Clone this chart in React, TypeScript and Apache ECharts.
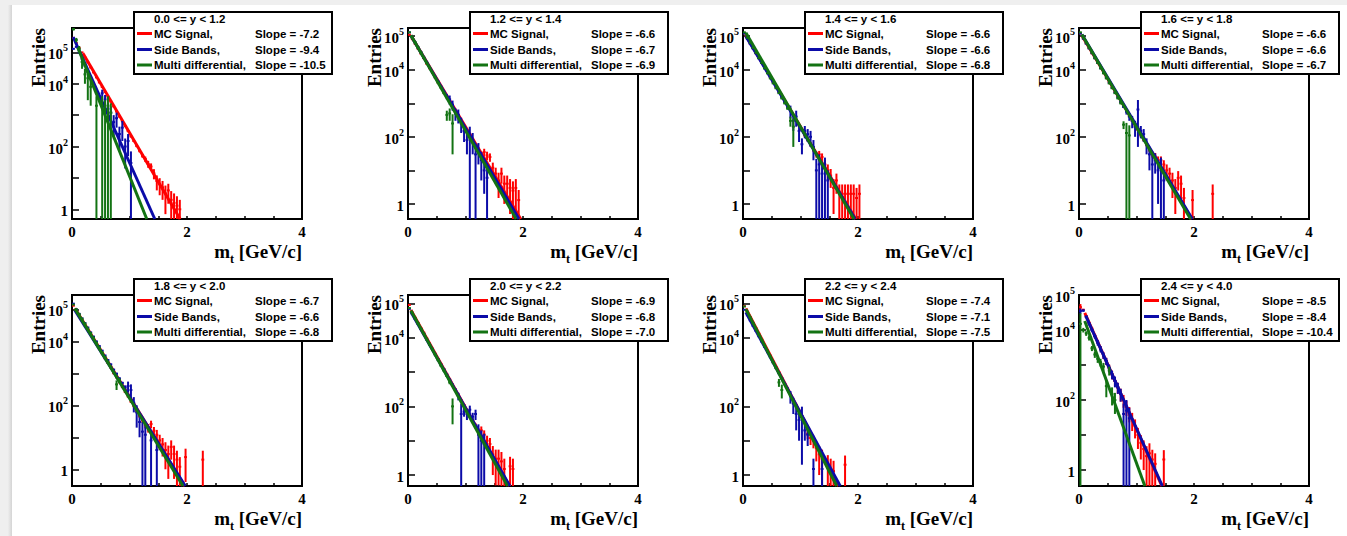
import React, { useEffect, useRef } from "react";
import * as echarts from "echarts";

// ---------------- data ----------------
const BIN_WIDTH = 0.05;
const TITLES = [
  "0.0 <= y < 1.2", "1.2 <= y < 1.4", "1.4 <= y < 1.6", "1.6 <= y < 1.8",
  "1.8 <= y < 2.0", "2.0 <= y < 2.2", "2.2 <= y < 2.4", "2.4 <= y < 4.0",
];
const SERIES_NAMES = ["MC Signal,", "Side Bands,", "Multi differential,"];
const SLOPES_MC = [-7.2, -6.6, -6.6, -6.6, -6.7, -6.9, -7.4, -8.5];
const SLOPES_SB = [-9.4, -6.7, -6.6, -6.6, -6.6, -6.8, -7.1, -8.4];
const SLOPES_MD = [-10.5, -6.9, -6.8, -6.7, -6.8, -7.0, -7.5, -10.4];
const Y_MIN = [0.49, 0.355, 0.355, 0.355, 0.3, 0.48, 0.48, 0.35];
const Y_MAX = [6.0e5, 1.75e5, 1.75e5, 1.75e5, 2.8e5, 1.75e5, 1.75e5, 1.0e5];
const X_LABELS = [0, 2, 4];
const Y_LABEL_EXPONENTS = [0, 2, 4, 5];

// fit lines: [x start, y start, x end, y end]
const FIT_MC = [
  [0.19, 9.4e4, 1.88, 0.49], [0.05, 1.05e5, 1.96, 0.355], [0.05, 1.05e5, 1.96, 0.355], [0.05, 1.05e5, 1.96, 0.355],
  [0.05, 1.07e5, 1.96, 0.3], [0.05, 6.4e4, 1.76, 0.48], [0.05, 7.1e4, 1.66, 0.48], [0.1, 3.1e4, 1.44, 0.35],
];
const FIT_SB = [
  [0.02, 3.1e5, 1.44, 0.49], [0.05, 1.05e5, 1.93, 0.355], [0.05, 9.9e4, 1.95, 0.355], [0.05, 1.12e5, 1.97, 0.355],
  [0.05, 9.3e4, 1.97, 0.3], [0.05, 5.7e4, 1.77, 0.48], [0.05, 5.5e4, 1.69, 0.48], [0.12, 2.5e4, 1.45, 0.35],
];
const FIT_MD = [
  [0.1, 1.45e5, 1.3, 0.49], [0.05, 1.07e5, 1.88, 0.355], [0.05, 1.26e5, 1.93, 0.355], [0.05, 1.12e5, 1.94, 0.355],
  [0.05, 1.05e5, 1.93, 0.3], [0.05, 6.2e4, 1.73, 0.48], [0.05, 6.8e4, 1.63, 0.48], [0.1, 1.8e4, 1.145, 0.35],
];

// histograms: [content, error] per 0.05 GeV/c bin starting at 0
const P1_MC = [[2.9e5,540],[2.0e5,450],[1.4e5,370],[1.0e5,320],[6.9e4,260],[4.8e4,220],[3.3e4,180],[2.3e4,150],[1.6e4,130],[1.1e4,105],[7.9e3,89],[5.5e3,74],[3.9e3,62],[2.7e3,52],[1.9e3,44],[1.3e3,36],[900,30],[640,25],[450,21],[310,18],[210,15],[150,12],[105,10],[74,9],[51,7],[40,8],[28,7],[23,6],[14,5],[8,4],[6.3,3.5],[5,3],[3.2,2.5],[4,2.5],[2,1.8],[1.6,1.6],[1.3,1.3],[1,1]];
const P1_SB = [[1.3e5,2e3],[1.5e5,2e3],[9.8e4,1.5e3],[6.2e4,1.2e3],[3.8e4,900],[2.4e4,700],[1.5e4,550],[9.3e3,450],[5.9e3,350],[3.6e3,300],[5.0e3,1.5e3],[3.2e3,1.2e3],[1.6e3,800],[1.2e3,700],[600,400],[800,400],[250,180],[400,250],[100,80],[150,100],[30,40]];
const P1_MD = [[5.5e5,5e4],[2.5e5,4e4],[1.3e5,3e4],[5e4,2e4],[2e4,1e4],[1.5e4,1.2e4],[8e3,6e3],[0,0],[2e3,2e3],[0,0],[2e3,2e3],[1.5e3,1.5e3],[2e3,2e3],[1.2e3,1.2e3]];

const P2_MC = [[1.1e5,330],[8.1e4,280],[5.8e4,240],[4.2e4,200],[3.0e4,170],[2.2e4,150],[1.5e4,120],[1.1e4,105],[8.0e3,90],[5.8e3,76],[4.1e3,64],[3.0e3,55],[2.1e3,46],[1.5e3,39],[1.1e3,33],[790,28],[570,24],[410,20],[300,17],[210,15],[150,12],[110,10],[79,9],[56,8],[41,7],[30,6],[35,9],[28,8],[25,7],[12,5],[8,4],[5,3.5],[8,4],[4,3],[4,3],[3,2.5],[2.5,2.2],[3,2.5],[1.3,1.3]];
const P2_SB = [[1.3e5,700],[8.9e4,600],[6.4e4,500],[4.6e4,430],[3.3e4,360],[2.3e4,300],[1.7e4,260],[1.2e4,220],[8.5e3,180],[6.1e3,160],[4.4e3,130],[3.1e3,110],[2.2e3,300],[1.6e3,300],[1.3e3,400],[900,300],[500,200],[450,200],[250,120],[150,80],[80,50],[100,100],[80,50],[30,30],[40,25],[20,15],[10,8],[6,6]];
const P2_MD = [[1.3e5,700],[9.1e4,600],[6.5e4,500],[4.6e4,430],[3.3e4,360],[2.3e4,300],[1.6e4,250],[1.2e4,220],[8.2e3,180],[5.8e3,150],[4.1e3,130],[2.9e3,110],[2.0e3,90],[450,150],[500,200],[250,220]];

const P3_MC = [[1.2e5,350],[8.6e4,290],[6.1e4,250],[4.4e4,210],[3.1e4,180],[2.3e4,150],[1.6e4,130],[1.2e4,110],[8.3e3,91],[6.0e3,77],[4.3e3,66],[3.1e3,56],[2.2e3,47],[1.6e3,40],[1.1e3,33],[820,29],[590,24],[420,20],[300,17],[220,15],[160,13],[110,10],[82,9],[59,8],[42,7],[30,6],[30,8],[25,7],[15,6],[10,5],[7,4],[3,2.5],[5,3],[2,1.8],[2,1.8],[2,1.8],[2,1.8],[2,1.8],[2,1.8],[1.5,1.5],[2,1.8]];
const P3_SB = [[1.2e5,700],[8.4e4,600],[6.0e4,500],[4.3e4,420],[3.1e4,350],[2.2e4,300],[1.6e4,250],[1.1e4,210],[8.0e3,180],[5.8e3,150],[4.1e3,130],[2.9e3,110],[2.1e3,90],[1.5e3,80],[1.1e3,70],[780,60],[600,250],[300,150],[400,200],[150,80],[60,30],[150,60],[120,50],[100,50],[50,30],[10,12],[15,15],[8,8],[12,12],[5,5]];
const P3_MD = [[1.3e5,700],[9.0e4,600],[6.4e4,500],[4.5e4,420],[3.2e4,350],[2.2e4,300],[1.6e4,250],[1.1e4,210],[7.8e3,180],[5.5e3,150],[3.9e3,130],[2.8e3,110],[2.0e3,90],[1.4e3,80],[1.0e3,70],[700,60],[300,100],[200,150]];

const P4_MC = [[1.2e5,350],[8.6e4,290],[6.1e4,250],[4.4e4,210],[3.1e4,180],[2.3e4,150],[1.6e4,130],[1.2e4,110],[8.3e3,91],[6.0e3,77],[4.3e3,66],[3.1e3,56],[2.2e3,47],[1.6e3,40],[1.1e3,33],[820,29],[590,24],[420,20],[300,17],[220,15],[160,13],[110,10],[82,9],[59,8],[42,7],[30,6],[26,7],[20,6],[20,6],[15,5],[10,5],[8,4],[5,3.5],[3,2.5],[6,3.5],[4,3],[1.5,1.5],[0,0],[0,0],[1.3,1.3],[0,0],[0,0],[0,0],[0,0],[0,0],[0,0],[2,1.8]];
const P4_SB = [[1.2e5,700],[8.4e4,600],[6.0e4,500],[4.3e4,420],[3.1e4,350],[2.2e4,300],[1.6e4,250],[1.1e4,210],[8.0e3,180],[5.8e3,150],[4.1e3,130],[2.9e3,110],[2.1e3,90],[1.5e3,80],[1.1e3,70],[780,60],[560,100],[400,100],[300,120],[200,100],[650,600],[150,60],[120,50],[60,30],[30,20],[15,15],[20,12],[10,9],[12,12],[5,5]];
const P4_MD = [[1.3e5,700],[9.0e4,600],[6.4e4,500],[4.5e4,420],[3.2e4,350],[2.2e4,300],[1.6e4,250],[1.1e4,210],[7.8e3,180],[5.5e3,150],[3.9e3,130],[2.8e3,110],[2.0e3,90],[1.4e3,80],[1.0e3,70],[230,60],[130,130],[110,110]];

const P5_MC = [[1.3e5,360],[9.1e4,300],[6.5e4,250],[4.6e4,210],[3.3e4,180],[2.3e4,150],[1.6e4,130],[1.2e4,110],[8.2e3,90],[5.8e3,76],[4.1e3,64],[2.9e3,54],[2.1e3,46],[1.5e3,39],[1.0e3,32],[740,27],[520,23],[370,19],[260,16],[190,14],[130,11],[95,10],[67,8],[47,7],[34,6],[24,5],[20,6],[26,7],[16,5],[12,5],[8,4],[6,3.5],[4,3],[3,2.5],[5,3],[3,2.5],[2,1.8],[1.2,1.2],[0,0],[2.4,2],[0,0],[0,0],[0,0],[0,0],[0,0],[2,1.8]];
const P5_SB = [[1.5e5,800],[1.0e5,650],[7.2e4,550],[5.2e4,470],[3.7e4,400],[2.7e4,330],[1.9e4,280],[1.4e4,240],[9.9e3,200],[7.1e3,170],[5.1e3,140],[3.6e3,120],[2.6e3,100],[1.9e3,90],[1.3e3,75],[970,65],[690,55],[500,45],[360,60],[400,150],[300,150],[120,60],[60,40],[30,20],[15,15],[12,12],[0,0],[8,8],[0,0],[4,4]];
const P5_MD = [[1.4e5,800],[1.0e5,650],[7.1e4,550],[5.1e4,470],[3.6e4,400],[2.5e4,330],[1.8e4,280],[1.3e4,240],[9.0e3,200],[6.3e3,170],[4.5e3,140],[3.2e3,120],[2.3e3,100],[1.6e3,90],[1.1e3,75],[450,150],[600,100]];

const P6_MC = [[9.0e4,300],[5.4e4,230],[3.8e4,190],[2.7e4,160],[1.9e4,140],[1.4e4,120],[9.7e3,100],[6.8e3,82],[4.8e3,69],[3.4e3,58],[2.4e3,49],[1.7e3,41],[1.2e3,35],[860,29],[610,25],[430,21],[310,18],[220,15],[150,12],[110,10],[77,9],[54,7],[38,6],[27,5],[19,4.5],[20,6],[15,5],[10,4],[8,4],[4,3],[3,2.5],[3,2.5],[2.5,2.2],[1.5,1.5],[0,0],[1.8,1.6],[1.5,1.5]];
const P6_SB = [[6.9e4,500],[4.9e4,420],[3.5e4,350],[2.5e4,300],[1.8e4,250],[1.3e4,220],[8.9e3,180],[6.3e3,150],[4.6e3,130],[3.2e3,110],[2.3e3,95],[1.6e3,80],[1.2e3,70],[830,58],[590,50],[420,40],[300,35],[200,50],[60,60],[70,20],[60,20],[80,25],[50,15],[60,20],[15,15],[10,10],[8,8]];
const P6_MD = [[7.3e4,500],[5.1e4,420],[3.6e4,350],[2.6e4,300],[1.8e4,250],[1.3e4,220],[8.9e3,180],[6.3e3,150],[4.4e3,130],[3.1e3,110],[2.2e3,95],[1.5e3,80],[1.1e3,70],[770,58],[500,60],[100,70]];

const P7_MC = [[8.3e4,290],[5.7e4,240],[4.0e4,200],[2.7e4,160],[1.9e4,140],[1.3e4,115],[9.1e3,95],[6.2e3,79],[4.3e3,66],[3.0e3,55],[2.0e3,45],[1.4e3,37],[980,31],[670,26],[460,21],[320,18],[220,15],[150,12],[110,10],[74,9],[51,7],[35,6],[16,5],[12,4.5],[10,4],[6,3.5],[4,3],[3,2.5],[0,0],[2,1.8],[1.5,1.5],[1.3,1.3],[0,0],[0,0],[0,0],[2,1.7]];
const P7_SB = [[6.5e4,500],[4.5e4,420],[3.2e4,350],[2.2e4,300],[1.6e4,250],[1.1e4,210],[7.7e3,180],[5.4e3,150],[3.8e3,120],[2.7e3,100],[1.9e3,90],[1.3e3,75],[920,60],[650,50],[450,45],[320,40],[200,80],[120,60],[60,40],[40,30],[50,48],[20,10],[15,8],[0,0],[1.5,1.5],[0,0],[0,0],[1.5,1.5]];
const P7_MD = [[8.1e4,500],[5.6e4,420],[3.8e4,350],[2.6e4,300],[1.8e4,250],[1.2e4,210],[8.5e3,180],[5.9e3,150],[4.0e3,120],[2.8e3,100],[1.9e3,90],[1.3e3,75],[500,130],[300,130]];

const P8_MC = [[4.5e4,1.0e4],[3.8e4,2e3],[2.5e4,1.5e3],[1.6e4,1.2e3],[1.1e4,1e3],[6.9e3,800],[4.6e3,600],[3.0e3,500],[1.9e3,400],[1.3e3,300],[830,200],[540,150],[350,100],[230,80],[150,60],[100,40],[65,30],[43,20],[28,15],[18,10],[10,6],[6,4],[4,3],[2.5,2.3],[3,2.8],[2,1.8],[1.5,1.5],[0,0],[0,0],[2,1.7]];
const P8_SB = [[3.5e4,6e3],[3.6e4,3e3],[2.4e4,2e3],[1.5e4,1.5e3],[1.0e4,1.2e3],[6.7e3,1e3],[4.4e3,800],[2.9e3,600],[1.9e3,400],[1.3e3,300],[810,200],[540,150],[350,120],[230,80],[150,60],[40,40],[50,50],[30,30]];
const P8_MD = [[1.5e4,1.5e4],[1.0e4,1.5e3],[8e3,1.2e3],[6e3,1e3],[3e3,500],[2e3,400],[1.5e3,350],[1.2e3,300],[900,250],[250,130],[700,200],[150,80],[100,60]];

const HISTS_MC = [P1_MC, P2_MC, P3_MC, P4_MC, P5_MC, P6_MC, P7_MC, P8_MC];
const HISTS_SB = [P1_SB, P2_SB, P3_SB, P4_SB, P5_SB, P6_SB, P7_SB, P8_SB];
const HISTS_MD = [P1_MD, P2_MD, P3_MD, P4_MD, P5_MD, P6_MD, P7_MD, P8_MD];

// ---------------- layout / style ----------------
const W = 1347, H = 536;
const PLOT_W = 230, PLOT_H = 191;
const COL_X = [72, 408, 743, 1079];
const ROW_Y = [28, 295];
const COLORS = ["#ff0000", "#0b0ba8", "#137313"];
const SERIF = "'Liberation Serif', 'DejaVu Serif', serif";
const SANS = "'Liberation Sans', Arial, sans-serif";

function histSeries(p: number, k: number, hist: number[][], color: string) {
  const yMin = Y_MIN[p], yMax = Y_MAX[p];
  const data = hist
    .map((d, i) => [(i + 0.5) * BIN_WIDTH, d[0], d[1]])
    .filter((d) => d[1] > 0);
  return {
    type: "custom",
    xAxisIndex: p,
    yAxisIndex: p,
    silent: true,
    z: 2 + k * 2,
    data,
    encode: { x: 0, y: 1 },
    renderItem: (params: any, api: any) => {
      const x = api.value(0), v = api.value(1), e = api.value(2);
      const style = { stroke: color, lineWidth: 2 };
      const children: any[] = [];
      if (v >= yMin && v <= yMax) {
        const a = api.coord([x - BIN_WIDTH / 2, v]);
        const b = api.coord([x + BIN_WIDTH / 2, v]);
        children.push({ type: "line", shape: { x1: a[0], y1: a[1], x2: b[0], y2: b[1] }, style });
      }
      const lo = Math.max(v - e, yMin), hi = Math.min(v + e, yMax);
      if (hi > lo) {
        const c = api.coord([x, lo]);
        const d = api.coord([x, hi]);
        children.push({ type: "line", shape: { x1: c[0], y1: c[1], x2: d[0], y2: d[1] }, style });
      }
      return { type: "group", children };
    },
  };
}

function fitSeries(p: number, k: number, fit: number[], color: string) {
  return {
    type: "line",
    xAxisIndex: p,
    yAxisIndex: p,
    silent: true,
    z: 3 + k * 2,
    showSymbol: false,
    symbol: "none",
    data: [[fit[0], fit[1]], [fit[2], fit[3]]],
    lineStyle: { color, width: 3 },
  };
}

function buildOption() {
  const grid: any[] = [], xAxis: any[] = [], yAxis: any[] = [], series: any[] = [];
  const elements: any[] = [
    { type: "rect", shape: { x: 12, y: 5, width: W - 12, height: H - 5 }, style: { fill: "#ffffff" }, z: -10, silent: true },
    {
      type: "rect", shape: { x: 8, y: 5, width: 4, height: H - 5 }, z: -10, silent: true,
      style: { fill: new echarts.graphic.LinearGradient(0, 0, 1, 0, [{ offset: 0, color: "#eeeeee" }, { offset: 1, color: "#d4d4d4" }]) },
    },
  ];
  for (let p = 0; p < 8; p++) {
    const left = COL_X[p % 4];
    const top = ROW_Y[Math.floor(p / 4)];
    grid.push({ left, top, width: PLOT_W, height: PLOT_H, show: true, borderColor: "#000", borderWidth: 2, backgroundColor: "transparent" });
    xAxis.push({
      gridIndex: p, type: "value", min: 0, max: 4, interval: 0.5,
      axisLine: { show: false }, splitLine: { show: false },
      axisTick: { show: true, inside: true, length: 3, lineStyle: { color: "#000", width: 1.5 } },
      axisLabel: {
        formatter: (v: number) => (X_LABELS.indexOf(v) >= 0 ? String(v) : ""),
        fontFamily: SERIF, fontWeight: "bold", fontSize: 15, color: "#000", margin: 5,
      },
    });
    yAxis.push({
      gridIndex: p, type: "log", logBase: 10, min: Y_MIN[p], max: Y_MAX[p],
      axisLine: { show: false }, splitLine: { show: false }, minorTick: { show: false },
      axisTick: { show: true, inside: true, length: 7, lineStyle: { color: "#000", width: 1.5 } },
      axisLabel: {
        margin: 4,
        color: "#000", fontFamily: SERIF, fontWeight: "bold", fontSize: 15,
        formatter: (v: number) => {
          const e = Math.log10(v);
          const r = Math.round(e);
          if (Math.abs(e - r) > 1e-6 || Y_LABEL_EXPONENTS.indexOf(r) < 0) return "";
          if (r === 0) return "{b|1}";
          return "{b|10}{s|" + r + "}";
        },
        rich: {
          b: { fontFamily: SERIF, fontWeight: "bold", fontSize: 15, color: "#000", verticalAlign: "bottom", lineHeight: 19 },
          s: { fontFamily: SERIF, fontWeight: "bold", fontSize: 10, color: "#000", verticalAlign: "top", lineHeight: 19 },
        },
      },
    });
    const hists = [HISTS_MC[p], HISTS_SB[p], HISTS_MD[p]];
    const fits = [FIT_MC[p], FIT_SB[p], FIT_MD[p]];
    for (let k = 0; k < 3; k++) {
      series.push(histSeries(p, k, hists[k], COLORS[k]));
      series.push(fitSeries(p, k, fits[k], COLORS[k]));
    }

    // axis titles
    elements.push({
      type: "text", x: left - 34, y: top, rotation: Math.PI / 2, silent: true, z: 50,
      style: { text: "Entries", fontFamily: SERIF, fontWeight: "bold", fontSize: 19, fill: "#000", align: "right", verticalAlign: "middle" },
    });
    elements.push({
      type: "text", x: left + PLOT_W, y: top + PLOT_H + 34, silent: true, z: 50,
      style: {
        text: "{b|m}{t|t}{b| [GeV/c]}", align: "right", verticalAlign: "middle",
        rich: {
          b: { fontFamily: SERIF, fontWeight: "bold", fontSize: 19, fill: "#000", verticalAlign: "top", lineHeight: 23 },
          t: { fontFamily: SERIF, fontWeight: "bold", fontSize: 12, fill: "#000", verticalAlign: "bottom", lineHeight: 23 },
        },
      },
    });

    // legend box
    const lx = left + 62, ly = top - 16;
    const slopes = [SLOPES_MC[p], SLOPES_SB[p], SLOPES_MD[p]];
    elements.push({
      type: "rect", shape: { x: lx, y: ly, width: 198, height: 62 }, z: 100, silent: true,
      style: { fill: "#fff", stroke: "#000", lineWidth: 2 },
    });
    elements.push({
      type: "text", x: lx + 20, y: ly + 7, z: 101, silent: true,
      style: { text: TITLES[p], fontFamily: SANS, fontWeight: "bold", fontSize: 11.5, fill: "#000", align: "left", verticalAlign: "middle" },
    });
    const rowY = [ly + 21.5, ly + 37.5, ly + 53];
    for (let k = 0; k < 3; k++) {
      elements.push({
        type: "line", z: 101, silent: true,
        shape: { x1: lx + 3, y1: rowY[k], x2: lx + 18, y2: rowY[k] },
        style: { stroke: COLORS[k], lineWidth: 3 },
      });
      elements.push({
        type: "text", x: lx + 20, y: rowY[k], z: 101, silent: true,
        style: { text: SERIES_NAMES[k], fontFamily: SANS, fontWeight: "bold", fontSize: 11.5, fill: "#000", align: "left", verticalAlign: "middle" },
      });
      elements.push({
        type: "text", x: lx + 121, y: rowY[k], z: 101, silent: true,
        style: { text: "Slope = " + slopes[k].toFixed(1), fontFamily: SANS, fontWeight: "bold", fontSize: 11.5, fill: "#000", align: "left", verticalAlign: "middle" },
      });
    }
  }
  return {
    animation: false,
    backgroundColor: "#efefef",
    grid, xAxis, yAxis, series,
    graphic: { elements },
  };
}

export default function App() {
  const ref = useRef<HTMLDivElement>(null);
  useEffect(() => {
    document.body.style.margin = "0";
    if (!ref.current) return;
    const chart = echarts.init(ref.current, undefined, { renderer: "svg", width: W, height: H });
    chart.setOption(buildOption() as any);
    return () => chart.dispose();
  }, []);
  return <div ref={ref} style={{ width: W, height: H }} />;
}
